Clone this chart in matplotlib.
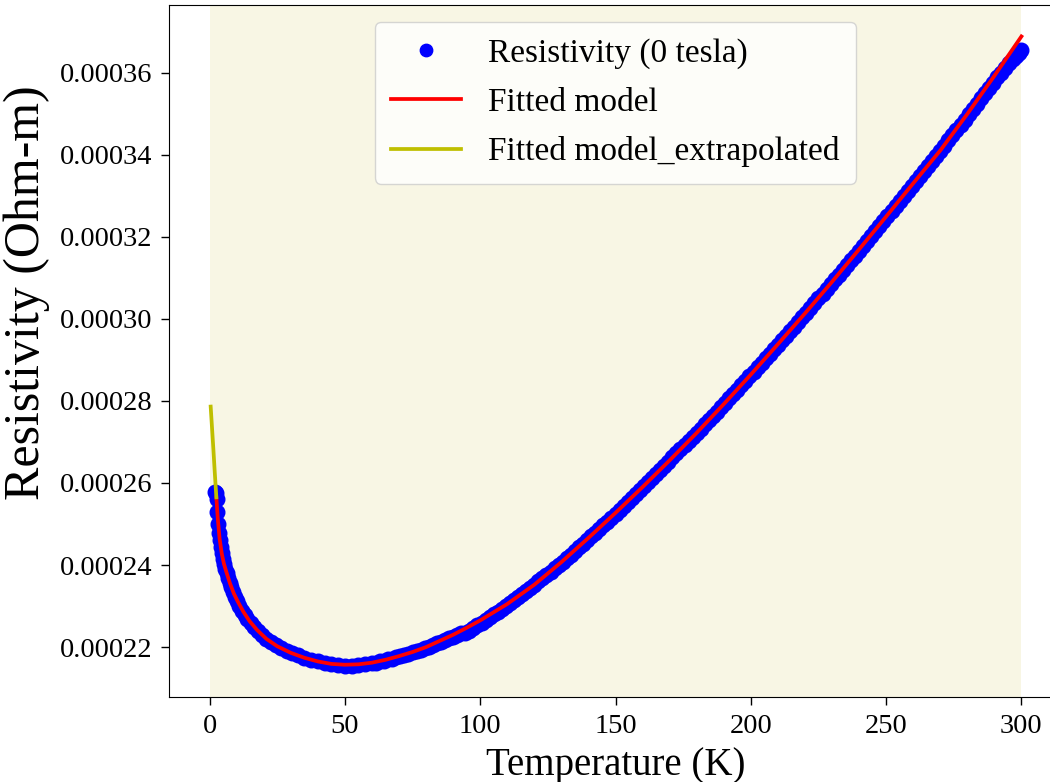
import numpy as np
import matplotlib
matplotlib.use("Agg")
import matplotlib.pyplot as plt

plt.rcParams['font.family'] = ['Liberation Serif', 'DejaVu Serif']

# Measured data (temperature in K, resistivity in micro-Ohm-m)
temp_data = [2.0, 2.3, 2.6, 2.9, 3.2, 3.5, 3.8, 4.1, 4.5, 4.9, 5.3, 5.8, 6.3, 6.8,
             7.4, 8.0, 8.7, 9.4, 10.2, 11.0, 12.0, 13.0, 14.0, 15.2, 16.5, 18.0,
             19.5, 21.0, 22.7, 24.5, 26.5, 28.5, 30.5, 32.5, 35.0, 37.5, 40.0,
             42.5, 45.0, 47.5, 50.0, 52.5, 55.0, 57.5,
             60.0, 61.5, 63.0, 64.5, 66.0, 67.5, 69.0, 70.5, 72.0, 73.5, 75.0, 76.5,
             78.0, 79.5, 81.0, 82.5, 84.0, 85.5, 87.0, 88.5, 90.0, 91.5, 93.0, 94.5,
             96.0, 97.5, 99.0, 100.5, 102.0, 103.5, 105.0, 106.5, 108.0, 109.5,
             111.0, 112.5, 114.0, 115.5, 117.0, 118.5, 120.0, 121.5, 123.0, 124.5,
             126.0, 127.5, 129.0, 130.5, 132.0, 133.5, 135.0, 136.5, 138.0, 139.5,
             141.0, 142.5, 144.0, 145.5, 147.0, 148.5, 150.0, 151.5, 153.0, 154.5,
             156.0, 157.5, 159.0, 160.5, 162.0, 163.5, 165.0, 166.5, 168.0, 169.5,
             171.0, 172.5, 174.0, 175.5, 177.0, 178.5, 180.0, 181.5, 183.0, 184.5,
             186.0, 187.5, 189.0, 190.5, 192.0, 193.5, 195.0, 196.5, 198.0, 199.5,
             201.0, 202.5, 204.0, 205.5, 207.0, 208.5, 210.0, 211.5, 213.0, 214.5,
             216.0, 217.5, 219.0, 220.5, 222.0, 223.5, 225.0, 226.5, 228.0, 229.5,
             231.0, 232.5, 234.0, 235.5, 237.0, 238.5, 240.0, 241.5, 243.0, 244.5,
             246.0, 247.5, 249.0, 250.5, 252.0, 253.5, 255.0, 256.5, 258.0, 259.5,
             261.0, 262.5, 264.0, 265.5, 267.0, 268.5, 270.0, 271.5, 273.0, 274.5,
             276.0, 277.5, 279.0, 280.5, 282.0, 283.5, 285.0, 286.5, 288.0, 289.5,
             291.0, 292.5, 294.0, 295.5, 297.0, 298.0, 299.0, 300.0]
rho_data = [257.8, 257.6, 256.0, 253.0, 250.0, 247.8, 246.0, 244.5, 242.9, 241.5,
            240.3, 239.1, 238.0, 236.9, 235.7, 234.6, 233.4, 232.3, 231.2, 230.1,
            228.9, 227.8, 226.9, 225.9, 224.9, 223.8, 222.9, 222.0, 221.2, 220.5,
            219.8, 219.1, 218.5, 218.0, 217.4, 216.9, 216.5, 216.1, 215.8, 215.6,
            215.5, 215.5, 215.6, 215.8,
            216.0, 216.2, 216.5, 216.7, 217.0, 217.2, 217.5, 217.8, 218.1, 218.4,
            218.7, 219.0, 219.4, 219.7, 220.1, 220.5, 220.9, 221.3, 221.7, 222.1,
            222.5, 223.0, 223.5, 223.4, 224.0, 224.6, 225.3, 225.9, 226.6, 227.3,
            228.0, 228.6, 229.3, 230.0, 230.7, 231.5, 232.2, 232.9, 233.7, 234.4,
            235.2, 236.0, 236.8, 237.6, 238.4, 239.2, 240.0, 240.8, 241.7, 242.5,
            243.4, 244.3, 245.2, 246.1, 247.0, 247.9, 248.8, 249.7, 250.6, 251.5,
            252.5, 253.4, 254.4, 255.3, 256.3, 257.2, 258.2, 259.2, 260.2, 261.2,
            262.2, 263.2, 264.2, 265.2, 266.2, 267.2, 268.2, 269.2, 270.2, 271.2,
            272.2, 273.2, 274.3, 275.3, 276.4, 277.4, 278.5, 279.5, 280.6, 281.6,
            282.7, 283.8, 284.9, 286.0, 287.1, 288.2, 289.3, 290.4, 291.5, 292.6,
            293.7, 294.8, 295.9, 297.0, 298.1, 299.2, 300.4, 301.5, 302.7, 303.8,
            305.0, 306.1, 307.3, 308.4, 309.6, 310.7, 311.9, 313.1, 314.3, 315.4,
            316.6, 317.8, 319.0, 320.2, 321.4, 322.6, 323.8, 325.0, 326.3, 327.5,
            328.7, 329.9, 331.1, 332.3, 333.5, 334.7, 336.0, 337.2, 338.5, 339.7,
            341.0, 342.2, 343.5, 344.7, 346.0, 347.2, 348.5, 349.8, 351.1, 352.4,
            353.7, 355.0, 356.3, 357.5, 358.8, 360.0, 361.2, 362.3, 363.4, 364.1,
            364.8, 365.4]

# Fitted model curve
temp_fit = [2.5, 3.0, 3.7, 4.5, 5.3, 6.2, 7.5, 9.0, 10.5, 12.5, 14.8, 17.5, 21.0,
            25.0, 30.0, 35.0, 40.0, 45.0, 50.0, 55.0, 60.0, 65.0, 70.0, 75.0, 80.0,
            85.0, 90.0, 95.0, 100.0, 110.0, 120.0, 130.0, 140.0, 150.0, 160.0,
            170.0, 180.0, 190.0, 200.0, 210.0, 220.0, 230.0, 240.0, 250.0, 260.0,
            270.0, 280.0, 290.0, 300.0]
rho_fit = [256.5, 251.5, 246.4, 242.8, 240.3, 238.3, 235.6, 233.0, 231.0, 228.6,
           226.3, 224.2, 222.0, 220.2, 218.6, 217.4, 216.5, 215.9, 215.7, 215.8,
           216.2, 216.9, 217.8, 218.8, 220.0, 221.5, 223.0, 224.7, 226.5, 230.5,
           235.2, 240.7, 246.6, 252.7, 259.0, 265.5, 272.2, 279.2, 286.4, 293.8,
           301.3, 309.0, 316.9, 324.9, 333.0, 341.0, 349.9, 359.2, 368.8]

# Extrapolated part of the fitted model
temp_ext = [0.4, 0.9, 1.4, 1.9, 2.5]
rho_ext = [278.6, 273.4, 268.2, 262.7, 256.5]

span_range = (0, 300)

fig = plt.figure(figsize=(10.5, 7.82), dpi=100)
ax = fig.add_axes([169 / 1050, 85 / 782, 893 / 1050, 692 / 782])
ax.spines['right'].set_visible(False)

ax.axvspan(span_range[0], span_range[1], color='#f8f6e4', zorder=0, lw=0)
ax.plot(temp_data, np.array(rho_data) * 1e-6, 'o', color='blue', markersize=10.5,
        label='Resistivity (0 tesla)', zorder=2)
ax.plot(temp_fit, np.array(rho_fit) * 1e-6, '-', color='red', lw=2.7,
        label='Fitted model', zorder=3)
ax.plot(temp_ext, np.array(rho_ext) * 1e-6, '-', color='#bfbf00', lw=2.7,
        label='Fitted model_extrapolated', zorder=3)

ax.set_xticks([0, 50, 100, 150, 200, 250, 300])
ax.set_yticks(np.arange(22, 37, 2) * 1e-5)
ax.tick_params(labelsize=20.5, length=6, width=1, pad=6)
ax.set_xlabel('Temperature (K)', fontsize=28, labelpad=6)
ax.set_ylabel('Resistivity (Ohm-m)', fontsize=36)
ax.yaxis.set_label_coords(-0.133, 0.584)
ax.legend(loc='upper center', fontsize=24, markerscale=0.85, handlelength=2.1,
          framealpha=0.8, borderpad=0.5, labelspacing=0.55)

fig.savefig('out.png', dpi=100)
